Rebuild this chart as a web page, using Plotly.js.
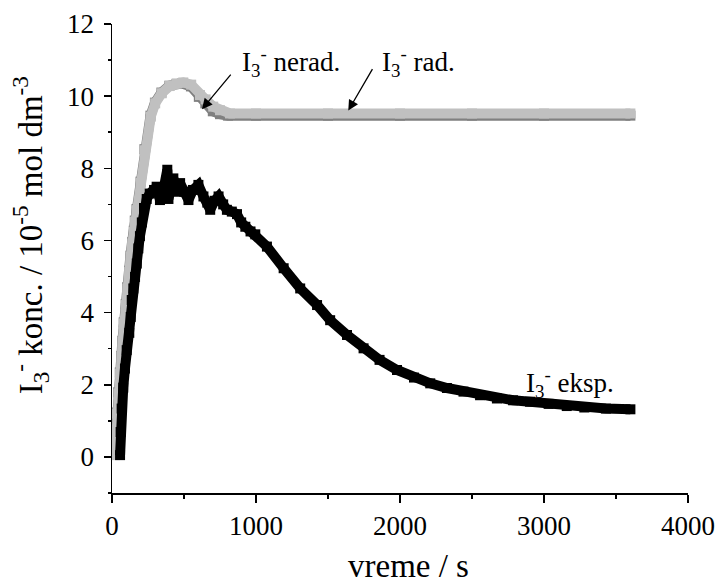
<!DOCTYPE html>
<html>
<head>
<meta charset="utf-8">
<script src="https://cdn.plot.ly/plotly-3.0.1.min.js"></script>
<style>html,body{margin:0;padding:0;background:#fff;}#chart{width:718px;height:585px;}</style>
</head>
<body>
<div id="chart"></div>
<script>
// Experimental I3- concentration (black squares)
var eksTime = [56,60,67,78,90,102,120,130,137,148,160,172,183,194,207,222,241,262,292,310,333,357,384,392,412,426,452,473,502,531,562,600,635,662,682,712,740,772,798,832,868,897,926,962,995,1076,1192,1307,1424,1515,1632,1747,1858,1979,2097,2210,2326,2441,2556,2673,2785,2903,3032,3158,3280,3430,3600];
var eksConc = [0.05,0.69,1.34,1.92,2.45,2.96,3.44,3.88,4.35,4.67,4.99,5.36,5.78,6.12,6.50,6.90,7.15,7.30,7.40,7.49,7.12,7.40,7.96,7.15,7.50,7.72,7.35,7.59,7.35,7.12,7.40,7.54,7.22,7.05,6.85,7.10,7.22,7.00,6.85,6.80,6.73,6.50,6.38,6.25,6.17,5.83,5.23,4.67,4.21,3.79,3.38,3.01,2.69,2.41,2.20,2.04,1.91,1.81,1.71,1.62,1.57,1.53,1.47,1.41,1.37,1.34,1.32];

// Model, non-radiation ("nerad.", dark grey)
var neradTime = [19,26,31,42,54,65,72,81,95,104,118,128,139,151,158,170,198,225,267,298,343,398,448,485,548,603,648,700,750,805,1000,1500,2000,2500,3000,3600];
var neradConc = [0.07,0.68,1.23,1.79,2.34,2.80,3.22,3.73,4.24,4.70,5.16,5.58,5.95,6.27,6.55,6.87,7.63,8.53,9.46,9.82,10.10,10.29,10.34,10.35,10.27,9.98,9.80,9.58,9.50,9.46,9.46,9.46,9.46,9.46,9.46,9.46];

// Model, radiation ("rad.", light grey)
var radTime = [21,28,33,44,56,67,74,83,97,106,120,130,141,153,160,172,200,227,269,300,345,400,450,495,550,611,650,703,750,819,1000,1500,2000,2500,3000,3600];
var radConc = [0.05,0.65,1.20,1.76,2.31,2.77,3.19,3.70,4.21,4.67,5.13,5.55,5.92,6.24,6.52,6.84,7.60,8.50,9.43,9.80,10.08,10.28,10.35,10.38,10.32,10.03,9.91,9.71,9.61,9.52,9.52,9.52,9.52,9.52,9.52,9.52];

var xTickVals = [0,1000,2000,3000,4000];
var yTickVals = [0,2,4,6,8,10,12];

var serif = 'Liberation Serif';

var traces = [
  {x: neradTime, y: neradConc, mode: 'lines+markers', type: 'scatter',
   line: {color: '#808080', width: 10}, marker: {symbol: 'square', size: 10, color: '#808080'}, hoverinfo: 'skip'},
  {x: radTime, y: radConc, mode: 'lines+markers', type: 'scatter',
   line: {color: '#c0c0c0', width: 10}, marker: {symbol: 'square', size: 10, color: '#c0c0c0'}, hoverinfo: 'skip'},
  {x: eksTime, y: eksConc, mode: 'lines+markers', type: 'scatter',
   line: {color: '#000000', width: 10}, marker: {symbol: 'square', size: 10, color: '#000000'}, hoverinfo: 'skip'}
];

var layout = {
  width: 718, height: 585,
  margin: {l: 112, r: 30, t: 24, b: 92},
  paper_bgcolor: '#ffffff', plot_bgcolor: '#ffffff',
  showlegend: false,
  font: {family: serif, color: '#000000', size: 27},
  xaxis: {
    range: [0, 4000], tickvals: xTickVals, ticktext: xTickVals.map(String),
    showgrid: false, zeroline: false, showline: true, linecolor: '#000', linewidth: 1.5,
    ticks: 'outside', ticklen: 8, tickwidth: 1.5, tickcolor: '#000',
    tickfont: {family: serif, size: 27, color: '#000'},
    minor: {dtick: 500, tick0: 0, ticks: 'outside', ticklen: 4, tickwidth: 1.5, tickcolor: '#000', showgrid: false}
  },
  yaxis: {
    range: [-1, 12], tickvals: yTickVals, ticktext: yTickVals.map(String),
    showgrid: false, zeroline: false, showline: true, linecolor: '#000', linewidth: 1.5,
    ticks: 'outside', ticklen: 7, tickwidth: 1.5, tickcolor: '#000',
    ticklabelstandoff: 4,
    tickfont: {family: serif, size: 27, color: '#000'},
    minor: {dtick: 1, tick0: 0, ticks: 'outside', ticklen: 3, tickwidth: 1.5, tickcolor: '#000', showgrid: false}
  },
  annotations: [
    {xref: 'paper', yref: 'paper', x: 0.514, y: -0.155, xanchor: 'center', yanchor: 'middle',
     text: 'vreme / s', showarrow: false, font: {family: serif, size: 33, color: '#000'}},
    {xref: 'paper', yref: 'paper', x: -0.142, y: 0.55, xanchor: 'center', yanchor: 'middle', textangle: -90,
     text: 'I<sub>3</sub><sup>-</sup> konc. / 10<sup>-5</sup> mol dm<sup>-3</sup>', showarrow: false,
     font: {family: serif, size: 33, color: '#000'}},
    {xref: 'x', yref: 'y', x: 889, y: 10.95, xanchor: 'left', yanchor: 'middle',
     text: 'I<sub>3</sub><sup>-</sup> nerad.', showarrow: false, font: {family: serif, size: 27, color: '#000'}},
    {xref: 'x', yref: 'y', x: 1861, y: 10.95, xanchor: 'left', yanchor: 'middle',
     text: 'I<sub>3</sub><sup>-</sup> rad.', showarrow: false, font: {family: serif, size: 27, color: '#000'}},
    {xref: 'x', yref: 'y', x: 2861, y: 2.05, xanchor: 'left', yanchor: 'middle',
     text: 'I<sub>3</sub><sup>-</sup> eksp.', showarrow: false, font: {family: serif, size: 27, color: '#000'}},
    {xref: 'x', yref: 'y', x: 625, y: 9.64, text: '', showarrow: true, ax: 30, ay: -36,
     arrowhead: 2, arrowsize: 1.6, arrowwidth: 1.3, arrowcolor: '#000', standoff: 0},
    {xref: 'x', yref: 'y', x: 1641, y: 9.60, text: '', showarrow: true, ax: 25, ay: -43,
     arrowhead: 2, arrowsize: 1.6, arrowwidth: 1.3, arrowcolor: '#000', standoff: 0}
  ]
};

Plotly.newPlot('chart', traces, layout, {staticPlot: true, displayModeBar: false});
</script>
</body>
</html>
